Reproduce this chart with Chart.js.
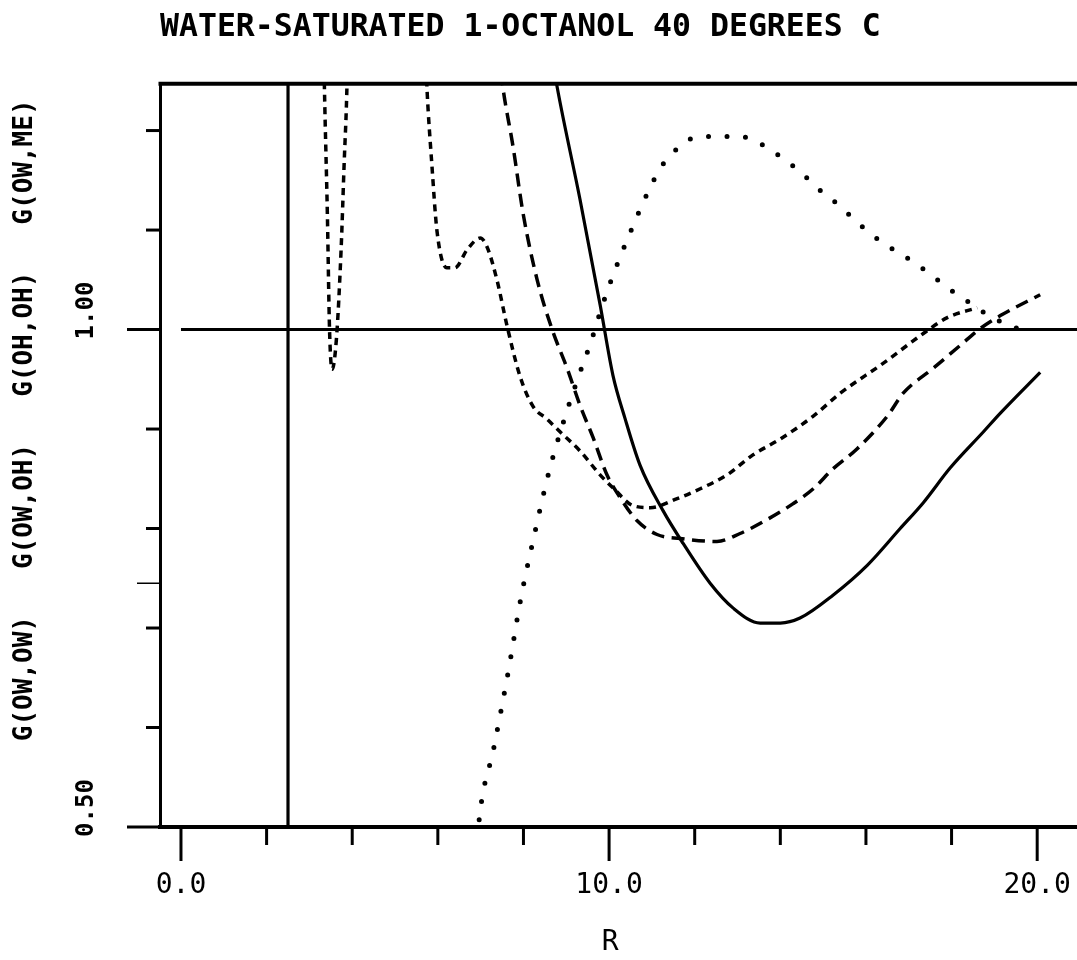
<!DOCTYPE html>
<html>
<head>
<meta charset="utf-8">
<script src="https://cdn.jsdelivr.net/npm/chart.js@4.4.1/dist/chart.umd.min.js"></script>
<style>
  html, body { margin: 0; padding: 0; background: #fff; }
  #wrap { width: 1077px; height: 960px; position: relative; }
</style>
</head>
<body>
<div id="wrap"><canvas id="c"></canvas></div>
<script>
// ---- data ----
const chartTitle = 'WATER-SATURATED 1-OCTANOL 40 DEGREES C';
const yAxisTitle = 'G(OW,OW)   G(OW,OH)   G(OH,OH)   G(OW,ME) ';
const xAxisTitle = 'R ';

// solid: G(OW,OW)
const solidR = [2.50, 2.501, 8.45, 8.79, 9.32, 9.79, 10.09, 10.37, 10.72, 11.26, 11.73, 12.36, 12.90, 13.53, 14.00, 14.46, 15.23, 16.03, 16.80, 17.34, 17.97, 18.74, 19.14, 20.07];
const solidG = [0.30, 1.80, 1.33, 1.243, 1.131, 1.025, 0.954, 0.911, 0.864, 0.818, 0.785, 0.745, 0.720, 0.705, 0.705, 0.710, 0.733, 0.763, 0.800, 0.826, 0.861, 0.897, 0.916, 0.957];

// long dashes: G(OW,OH)
const medR = [7.30, 7.52, 7.76, 7.99, 8.32, 8.67, 9.02, 9.32, 9.63, 9.95, 10.26, 10.65, 11.12, 11.66, 12.52, 13.06, 13.69, 14.30, 14.77, 15.23, 15.79, 16.50, 16.87, 17.57, 18.20, 18.67, 19.14, 20.07];
const medG = [1.32, 1.243, 1.183, 1.117, 1.050, 1.000, 0.961, 0.924, 0.891, 0.854, 0.831, 0.808, 0.794, 0.790, 0.787, 0.795, 0.809, 0.825, 0.840, 0.860, 0.880, 0.913, 0.936, 0.961, 0.984, 1.001, 1.014, 1.035];

// short dashes: G(OH,OH)
const shortR = [3.25, 3.35, 3.42, 3.47, 3.53, 3.63, 3.74, 3.81, 3.88, 3.98, 4.60, 5.50, 5.75, 5.86, 5.98, 6.21, 6.40, 6.68, 6.99, 7.15, 7.38, 7.62, 7.92, 8.22, 8.55, 8.86, 9.32, 9.79, 10.09, 10.56, 10.96, 11.59, 12.13, 12.76, 13.36, 14.00, 14.77, 15.40, 16.40, 17.34, 17.90, 18.60];
const shortG = [1.50, 1.245, 1.115, 1.000, 0.960, 0.990, 1.080, 1.165, 1.250, 1.500, 1.900, 1.500, 1.239, 1.166, 1.099, 1.062, 1.062, 1.080, 1.092, 1.083, 1.050, 1.003, 0.953, 0.923, 0.910, 0.897, 0.878, 0.854, 0.841, 0.823, 0.821, 0.830, 0.840, 0.854, 0.874, 0.890, 0.913, 0.936, 0.966, 0.996, 1.012, 1.022];

// dotted: G(OW,ME)
const dotR = [6.90, 6.96, 7.31, 7.64, 7.94, 8.22, 8.62, 9.00, 9.28, 9.58, 9.84, 10.14, 10.47, 10.82, 11.21, 11.50, 11.82, 12.22, 12.66, 13.06, 13.48, 13.83, 14.18, 14.51, 14.81, 15.14, 15.47, 15.79, 16.12, 16.47, 16.85, 17.20, 17.55, 17.90, 18.25, 18.80, 19.35, 19.77];
const dotG = [0.47, 0.505, 0.580, 0.655, 0.730, 0.787, 0.861, 0.916, 0.952, 0.988, 1.024, 1.060, 1.095, 1.130, 1.163, 1.178, 1.190, 1.194, 1.194, 1.194, 1.188, 1.179, 1.168, 1.157, 1.144, 1.133, 1.121, 1.108, 1.096, 1.085, 1.075, 1.065, 1.054, 1.042, 1.032, 1.016, 1.004, 0.998];

// g = 1 reference line
const unityR = [0, 20.93];
const unityG = [1, 1];

// axes
const xMin = -0.49, xMax = 20.93;
const yMin = 0.5, yMax = 1.247;
const xTickVals = [0, 2, 4, 6, 8, 10, 12, 14, 16, 18, 20];
const xLabelVals = [0, 10, 20];
const yTickVals = [0.5, 0.6, 0.7, 0.8, 0.9, 1.0, 1.1, 1.2];
const yLabelVals = [0.5, 1.0];
const yLabelText = ['0.50', '1.00'];
const yExtraTick = [0.745];

// ---- build ----
const pts = (rs, gs) => rs.map((r, i) => ({x: r, y: gs[i]}));
const MONO = '"DejaVu Sans Mono", "Liberation Mono", monospace';

const framePlugin = {
  id: 'frame',
  beforeDraw(chart) {
    const ctx = chart.ctx;
    ctx.save();
    ctx.fillStyle = '#fff';
    ctx.fillRect(0, 0, chart.width, chart.height);
    ctx.restore();
  },
  afterDraw(chart) {
    const {ctx, chartArea: a, scales: {x, y}} = chart;
    ctx.save();
    ctx.strokeStyle = '#000';
    ctx.fillStyle = '#000';
    ctx.lineCap = 'butt';
    // top frame line
    ctx.lineWidth = 4;
    ctx.beginPath();
    ctx.moveTo(a.left - 1.5, a.top);
    ctx.lineTo(chart.width, a.top);
    ctx.stroke();
    // y ticks
    ctx.lineWidth = 3;
    yTickVals.forEach(v => {
      const py = y.getPixelForValue(v);
      const len = yLabelVals.includes(v) ? 33 : 14;
      ctx.beginPath();
      ctx.moveTo(a.left - len, py);
      ctx.lineTo(a.left, py);
      ctx.stroke();
    });
    ctx.lineWidth = 1.5;
    yExtraTick.forEach(v => {
      const py = y.getPixelForValue(v);
      ctx.beginPath();
      ctx.moveTo(a.left - 23, py);
      ctx.lineTo(a.left, py);
      ctx.stroke();
    });
    // x ticks
    ctx.lineWidth = 3;
    xTickVals.forEach(v => {
      const px = x.getPixelForValue(v);
      const len = xLabelVals.includes(v) ? 34 : 18;
      ctx.beginPath();
      ctx.moveTo(px, a.bottom);
      ctx.lineTo(px, a.bottom + len);
      ctx.stroke();
    });
    // y tick labels (rotated)
    ctx.font = 'bold 24px ' + MONO;
    ctx.textAlign = 'center';
    ctx.textBaseline = 'middle';
    yLabelVals.forEach((v, i) => {
      const py = y.getPixelForValue(v);
      ctx.save();
      ctx.translate(87, py - 19);
      ctx.rotate(-Math.PI / 2);
      ctx.fillText(yLabelText[i], 0, 0);
      ctx.restore();
    });
    ctx.restore();
  }
};

const common = {pointRadius: 0, pointHoverRadius: 0, borderColor: '#000', fill: false, cubicInterpolationMode: 'monotone'};

new Chart(document.getElementById('c'), {
  type: 'line',
  data: {
    datasets: [
      Object.assign({label: 'G(OW,ME)', data: pts(dotR, dotG), borderWidth: 5, borderDash: [0, 18.5], borderCapStyle: 'round'}, common),
      Object.assign({label: 'G(OH,OH)', data: pts(shortR, shortG), borderWidth: 3.5, borderDash: [7, 5.5], borderCapStyle: 'butt'}, common),
      Object.assign({label: 'G(OW,OH)', data: pts(medR, medG), borderWidth: 3.5, borderDash: [13, 7.5], borderCapStyle: 'butt'}, common),
      Object.assign({label: 'G(OW,OW)', data: pts(solidR, solidG), borderWidth: 3.2}, common),
      Object.assign({label: 'g = 1', data: pts(unityR, unityG), borderWidth: 3}, common)
    ]
  },
  options: {
    responsive: true,
    maintainAspectRatio: false,
    animation: false,
    events: [],
    layout: {padding: 0},
    plugins: {
      legend: {display: false},
      tooltip: {enabled: false},
      title: {
        display: true,
        text: chartTitle,
        align: 'start',
        fullSize: false,
        color: '#000',
        font: {family: MONO, size: 31.5, weight: 'bold', lineHeight: 1.2},
        padding: {top: 9, bottom: 37}
      }
    },
    scales: {
      x: {
        type: 'linear',
        min: xMin,
        max: xMax,
        afterBuildTicks: s => { s.ticks = xTickVals.map(v => ({value: v})); },
        afterFit: s => { s.height = 133; s.paddingLeft = 0; s.paddingRight = 0; },
        grid: {display: false, drawTicks: false},
        border: {display: true, color: '#000', width: 4},
        ticks: {
          autoSkip: false,
          maxRotation: 0,
          minRotation: 0,
          padding: 42,
          color: '#000',
          font: {family: MONO, size: 28},
          callback: v => xLabelVals.includes(v) ? v.toFixed(1) : ''
        },
        title: {
          display: true,
          text: xAxisTitle,
          color: '#000',
          font: {family: MONO, size: 28, lineHeight: 1.2},
          padding: 0
        }
      },
      y: {
        type: 'linear',
        min: yMin,
        max: yMax,
        afterFit: s => { s.width = 160; s.paddingTop = 0; s.paddingBottom = 0; },
        grid: {display: false, drawTicks: false},
        border: {display: true, color: '#000', width: 3},
        ticks: {display: false},
        title: {
          display: true,
          text: yAxisTitle,
          align: 'end',
          color: '#000',
          font: {family: MONO, size: 26, weight: 'bold', lineHeight: 1.2},
          padding: {top: 10, bottom: 0}
        }
      }
    }
  },
  plugins: [framePlugin]
});
</script>
</body>
</html>
